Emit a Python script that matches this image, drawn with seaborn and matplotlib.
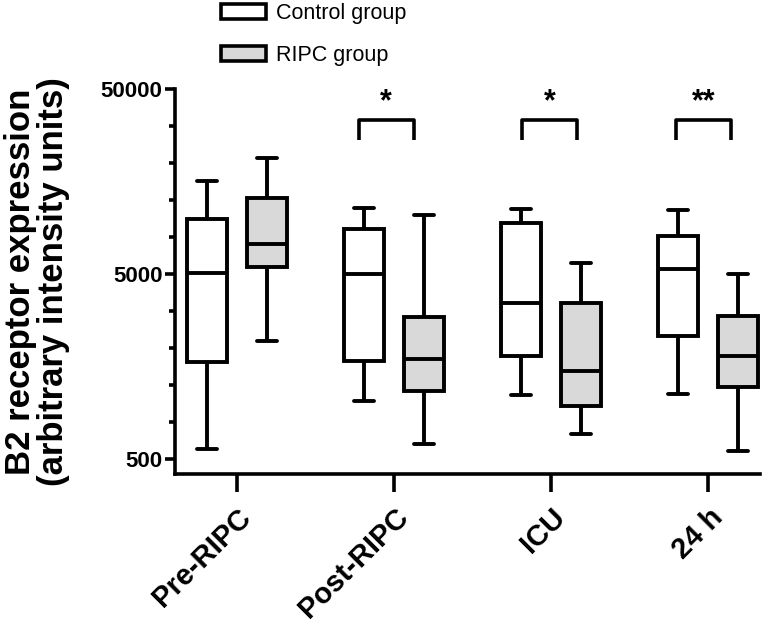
import numpy as np
import pandas as pd
import matplotlib
matplotlib.use("Agg")
import matplotlib.pyplot as plt
import matplotlib.ticker as mticker
from matplotlib.patches import Patch
import seaborn as sns

# ---- data (five-number summaries) ----
timepoints = ["Pre-RIPC", "Post-RIPC", "ICU", "24 h"]
groups = ["Control group", "RIPC group"]

ctrl_min = [564, 1030, 1111, 1121]
ctrl_q1 = [1678, 1685, 1808, 2320]
ctrl_med = [5048, 4970, 3475, 5310]
ctrl_q3 = [9955, 8790, 9430, 7990]
ctrl_max = [15920, 11420, 11280, 11140]

ripc_min = [2180, 600, 680, 552]
ripc_q1 = [5490, 1168, 968, 1228]
ripc_med = [7290, 1742, 1500, 1800]
ripc_q3 = [12940, 2940, 3500, 2967]
ripc_max = [21300, 10470, 5770, 5010]

sig_labels = ["", "*", "*", "**"]
y_major = [500, 5000, 50000]
y_tick_labels = ["500", "5000", "50000"]

# ---- build long-form table ----
rows = []
for i, t in enumerate(timepoints):
    for v in (ctrl_min[i], ctrl_q1[i], ctrl_med[i], ctrl_q3[i], ctrl_max[i]):
        rows.append((t, groups[0], v))
    for v in (ripc_min[i], ripc_q1[i], ripc_med[i], ripc_q3[i], ripc_max[i]):
        rows.append((t, groups[1], v))
df = pd.DataFrame(rows, columns=["time", "group", "value"])

sns.set_style("ticks")
plt.rcParams["font.family"] = ["Liberation Sans", "DejaVu Sans"]
plt.rcParams.update({
    "text.color": "black", "axes.labelcolor": "black",
    "xtick.color": "black", "ytick.color": "black",
    "axes.edgecolor": "black",
})

fig = plt.figure(figsize=(7.64, 6.29), dpi=100)
ax = fig.add_axes([175 / 764, 1 - 474 / 629, (760 - 175) / 764, (474 - 89) / 629])

gray = "#d9d9d9"
palette = {groups[0]: "white", groups[1]: gray}
sns.boxplot(data=df, x="time", y="value", hue="group", order=timepoints,
            hue_order=groups, palette=palette, saturation=1, whis=(0, 100),
            width=0.76, gap=0.33, linecolor="black", linewidth=2.8,
            fliersize=0, log_scale=True, legend=False, ax=ax)

ax.set_ylim(415, 50000)
ax.set_xlim(-0.395, 3.33)
ax.yaxis.set_major_locator(mticker.FixedLocator(y_major))
ax.yaxis.set_major_formatter(mticker.FixedFormatter(y_tick_labels))
minor = [b * 10 ** (k * 0.2) for b in (500, 5000) for k in range(1, 5)]
ax.yaxis.set_minor_locator(mticker.FixedLocator(minor))
ax.yaxis.set_minor_formatter(mticker.NullFormatter())

for s in ("top", "right"):
    ax.spines[s].set_visible(False)
for s in ("left", "bottom"):
    ax.spines[s].set_linewidth(2.6)

ax.tick_params(axis="y", which="major", length=7, width=2.6, labelsize=16, pad=2)
ax.tick_params(axis="y", which="minor", length=4.5, width=2.6)
ax.tick_params(axis="x", which="major", length=13, width=2.6, pad=8)
for lab in ax.get_yticklabels():
    lab.set_fontweight("bold")
ax.set_xticks(range(len(timepoints)))
ax.set_xticklabels(timepoints, rotation=45, ha="right", rotation_mode="anchor",
                   fontweight="bold", fontsize=21)
ax.set_xlabel("")
ax.set_ylabel("B2 receptor expression\n(arbitrary intensity units)",
              fontsize=25, fontweight="bold", labelpad=22, linespacing=1.0)

# significance brackets
br_top, br_end, star_y = 33960, 26450, 35000
br_shift = [0, -0.05, -0.01, -0.03]
for i, lab in enumerate(sig_labels):
    if not lab:
        continue
    c = i + br_shift[i]
    x0, x1 = c - 0.175, c + 0.175
    ax.plot([x0, x0, x1, x1], [br_end, br_top, br_top, br_end], color="black",
            lw=2.6, solid_capstyle="butt", clip_on=False)
    ax.text(c, star_y, lab, ha="center", va="bottom", fontsize=22,
            fontweight="bold", clip_on=False)

# legend
handles = [Patch(facecolor="white", edgecolor="black", linewidth=2.6),
           Patch(facecolor=gray, edgecolor="black", linewidth=2.6)]
fig.legend(handles, groups, loc="upper left",
           bbox_to_anchor=(218 / 764, 1 - 0 / 629), frameon=False,
           fontsize=15.5, handlelength=2.1, handleheight=0.7,
           labelspacing=0.95, handletextpad=0.45, borderpad=0.15,
           borderaxespad=0)

fig.savefig("out.png", dpi=100)
